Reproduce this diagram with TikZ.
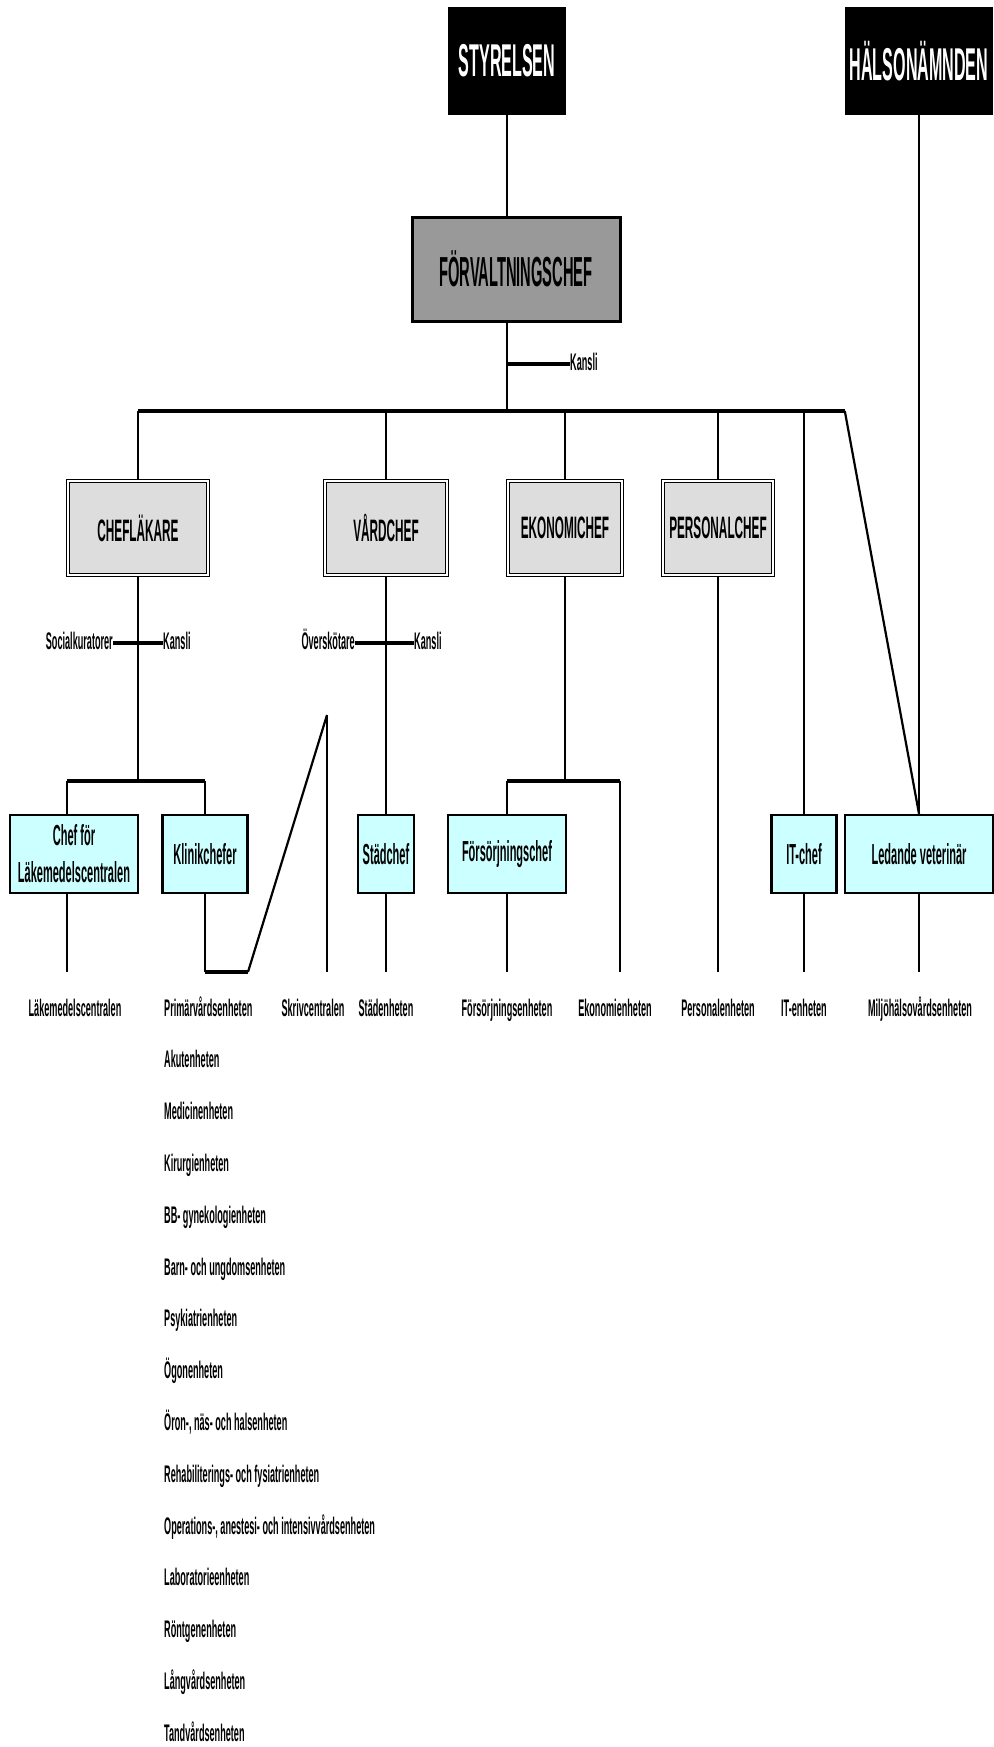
\documentclass[tikz,border=0pt]{standalone}
\usepackage{fontspec}
\newfontfamily\hdfont[FakeStretch=0.35]{Liberation Sans}
\newfontfamily\lbfont[FakeStretch=0.38]{Liberation Sans}
\definecolor{boxgray}{HTML}{999999}
\definecolor{chiefgray}{HTML}{DDDDDD}
\definecolor{unitcyan}{HTML}{CCFFFF}
\tikzset{
  board/.style={fill=black, text=white, inner sep=0pt, minimum height=108pt,
    font=\hdfont\bfseries\fontsize{46}{50}\selectfont},
  headbox/.style={fill=boxgray, draw, line width=3pt, inner sep=0pt,
    font=\hdfont\bfseries\fontsize{42}{46}\selectfont},
  chiefbox/.style={fill=chiefgray, draw, double=white, double distance=1.4pt,
    line width=1.5pt, inner sep=0pt, minimum height=94pt,
    font=\lbfont\bfseries\fontsize{31}{35}\selectfont},
  unitbox/.style={fill=unitcyan, draw, line width=2.4pt, inner sep=0pt,
    minimum height=78pt, align=center,
    font=\lbfont\bfseries\fontsize{29}{37}\selectfont},
  lbl/.style={inner sep=0pt, text height=17pt, text depth=5pt,
    font=\lbfont\bfseries\fontsize{24}{28}\selectfont},
  wire/.style={line width=1.6pt},
  heavy/.style={line width=3.2pt},
  slant/.style={line width=2.2pt}
}
\begin{document}
\begin{tikzpicture}[x=1pt, y=-1pt]
\useasboundingbox (0,0) rectangle (993,1747);

% top level
\node[board, minimum width=118pt] (sty) at (507,61) {STYRELSEN};
\node[board, minimum width=148pt] (hal) at (919,61) {HÄLSONÄMNDEN};
\node[headbox, minimum width=208pt, minimum height=104pt] (forv) at (516,269) {FÖRVALTNINGSCHEF};
\coordinate (bus) at (507,411);
\node[lbl, anchor=west] (kansli) at (570,364) {Kansli};

% chiefs
\node[chiefbox, minimum width=140pt] (chefl) at (138,528) {CHEFLÄKARE};
\node[chiefbox, minimum width=122pt] (vard) at (386,528) {VÅRDCHEF};
\node[chiefbox, minimum width=114pt] (ekon) at (565,528) {EKONOMICHEF};
\node[chiefbox, minimum width=110pt] (pers) at (718,528) {PERSONALCHEF};

\node[lbl, anchor=east] (socku) at (113,643) {Socialkuratorer};
\node[lbl, anchor=west] (kans2) at (163,643) {Kansli};
\node[lbl, anchor=east] (overs) at (355,643) {Överskötare};
\node[lbl, anchor=west] (kans3) at (414,643) {Kansli};

% units
\node[unitbox, minimum width=128pt] (lak) at (74,854) {Chef för\\Läkemedelscentralen};
\node[unitbox, minimum width=85pt] (klin) at (205,854) {Klinikchefer};
\node[unitbox, minimum width=56pt] (stad) at (386,854) {Städchef};
\node[unitbox, minimum width=118pt] (fors) at (507,854) {Försörjningschef};
\node[unitbox, minimum width=65pt] (itc) at (804,854) {IT-chef};
\node[unitbox, minimum width=148pt] (led) at (919,854) {Ledande veterinär};

\coordinate (endrow) at (0,972);
\coordinate (lakbus) at (67,781);
\coordinate (ekbus) at (507,781);
\coordinate (ekend) at (620,781);
\coordinate (skr) at (327,715);
\coordinate (skrlow) at (248,972);

% bottom row
\node[lbl] (lakc) at (75,1010) {Läkemedelscentralen};
\node[lbl] (skrc) at (313,1010) {Skrivcentralen};
\node[lbl] (stadc) at (386,1010) {Städenheten};
\node[lbl] (forsc) at (507,1010) {Försörjningsenheten};
\node[lbl] (ekonc) at (615,1010) {Ekonomienheten};
\node[lbl] (persc) at (718,1010) {Personalenheten};
\node[lbl] (itcc) at (804,1010) {IT-enheten};
\node[lbl] (ledc) at (920,1010) {Miljöhälsovårdsenheten};

\foreach \name [count=\i] in {Primärvårdsenheten, Akutenheten, Medicinenheten,
    Kirurgienheten, BB- gynekologienheten, Barn- och ungdomsenheten,
    Psykiatrienheten, Ögonenheten, {Öron-, näs- och halsenheten},
    Rehabiliterings- och fysiatrienheten,
    {Operations-, anestesi- och intensivvårdsenheten}, Laboratorieenheten,
    Röntgenenheten, Långvårdsenheten, Tandvårdsenheten}
  \node[lbl, anchor=west] (list\i) at (164,{1010+51.8*(\i-1)}) {\name};

% connectors
\draw[wire] (sty.south) -- (sty.south |- forv.north);
\draw[wire] (hal.south) -- (led.north);
\draw[wire] (bus |- forv.south) -- (bus);
\draw[heavy] (bus |- kansli.west) -- (kansli.west);
\draw[heavy] (chefl.north |- bus) -- (hal.south west |- bus);
\draw[slant] (hal.south west |- bus) -- (led.north);
\foreach \n in {chefl, vard, ekon, pers, itc}
  \draw[wire] (\n.north |- bus) -- (\n.north);

\draw[wire] (chefl.south) -- (chefl.south |- lakbus);
\draw[heavy] (socku.east) -- (kans2.west);
\draw[heavy] (lakbus) -- (klin.north |- lakbus);
\draw[wire] (lakbus) -- (lakbus |- lak.north);
\draw[wire] (klin.north |- lakbus) -- (klin.north);
\draw[wire] (lakbus |- lak.south) -- (lakbus |- endrow);
\draw[wire] (klin.south) -- (klin.south |- endrow);
\draw[heavy] (klin.south |- endrow) -- (skrlow);
\draw[slant] (skrlow) -- (skr);
\draw[wire] (skr) -- (skr |- endrow);

\draw[wire] (vard.south) -- (stad.north);
\draw[heavy] (overs.east) -- (kans3.west);

\draw[wire] (ekon.south) -- (ekon.south |- ekbus);
\draw[heavy] (ekbus) -- (ekend);
\draw[wire] (ekbus) -- (fors.north);
\draw[wire] (ekend) -- (ekend |- endrow);

\foreach \n in {stad, fors, pers, itc, led}
  \draw[wire] (\n.south) -- (\n.south |- endrow);
\end{tikzpicture}
\end{document}
